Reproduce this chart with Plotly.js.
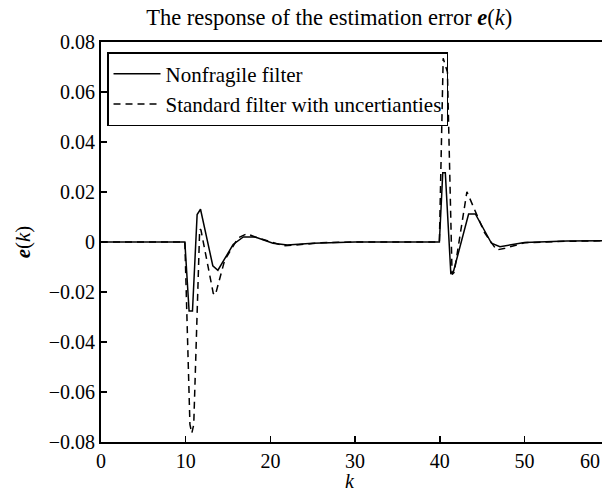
<!DOCTYPE html>
<html>
<head>
<meta charset="utf-8">
<script src="https://cdn.plot.ly/plotly-3.0.1.min.js"></script>
<style>html,body{margin:0;padding:0;background:#fff;}#chart{width:602px;height:493px;}</style>
</head>
<body>
<div id="chart"></div>
<script>
// Nonfragile filter
var kSolid = [0, 9.9, 10.4, 10.8, 11.35, 11.75, 13.2, 13.8, 15.6, 16.8, 18.2, 20.3, 22, 25, 30, 39.95, 40.35, 40.65, 41.3, 41.6, 43.4, 44.2, 46.1, 47.1, 50, 55, 60];
var eSolid = [0, 0, -0.0276, -0.0276, 0.011, 0.0131, -0.0095, -0.0113, -0.001, 0.002, 0.002, -0.0005, -0.0012, -0.0005, 0, 0, 0.0277, 0.0277, -0.0125, -0.012, 0.0112, 0.0112, -0.0005, -0.0019, -0.0002, 0.0004, 0.0005];
// Standard filter with uncertainties
var kDash = [0, 9.9, 10.5, 10.72, 10.95, 11.65, 11.8, 13.25, 13.5, 14.6, 16.2, 17.2, 18.2, 20, 21.5, 23, 26, 30, 39.95, 40.4, 40.9, 41.45, 41.7, 43.2, 45.3, 46.7, 47.7, 50, 55, 60];
var eDash = [0, 0, -0.073, -0.0765, -0.073, 0.0052, 0.0048, -0.0205, -0.0212, -0.0073, 0.0017, 0.0033, 0.002, 0, -0.0015, -0.0012, -0.0003, 0, 0, 0.0735, 0.068, -0.013, -0.0122, 0.0201, 0.0036, -0.0032, -0.0025, -0.0003, 0.0003, 0.0005];
var seriesNames = ['Nonfragile filter', 'Standard filter with uncertianties'];
var xTicks = [0, 10, 20, 30, 40, 50];
var yTicks = [-0.08, -0.06, -0.04, -0.02, 0, 0.02, 0.04, 0.06, 0.08];

var font = 'Liberation Serif, Times New Roman, serif';
var traces = [
  {x: kSolid, y: eSolid, mode: 'lines', name: seriesNames[0], line: {color: '#000', width: 1.5, dash: 'solid'}},
  {x: kDash, y: eDash, mode: 'lines', name: seriesNames[1], line: {color: '#000', width: 1.5, dash: '7px,5px'}}
];
var layout = {
  width: 602, height: 493,
  margin: {l: 101, r: 0, t: 42, b: 51, pad: 0},
  paper_bgcolor: '#fff', plot_bgcolor: '#fff',
  font: {family: font, size: 20, color: '#000'},
  title: {text: 'The response of the estimation error <b><i>e</i></b>(<i>k</i>)', x: 0.547, xanchor: 'center', y: 0.966, yanchor: 'middle', yref: 'container', font: {family: font, size: 22.5, color: '#000'}},
  xaxis: {range: [0, 59.15], tickvals: xTicks, ticks: 'inside', ticklen: 6, tickwidth: 1.5, tickcolor: '#000',
    showline: true, linecolor: '#000', linewidth: 2, mirror: true, showgrid: false, zeroline: false,
    tickfont: {family: font, size: 20}},
  yaxis: {range: [-0.08, 0.08], tickvals: yTicks, ticks: 'inside', ticklen: 6, tickwidth: 1.5, tickcolor: '#000',
    showline: true, linecolor: '#000', linewidth: 2, mirror: false, showgrid: false, zeroline: false,
    tickfont: {family: font, size: 20}, title: {text: '<b><i>e</i></b>(<i>k</i>)', standoff: 12, font: {family: font, size: 21}}},
  legend: {x: 0.012, y: 0.975, xanchor: 'left', yanchor: 'top', bgcolor: 'rgba(255,255,255,0)', bordercolor: '#000', borderwidth: 1.5,
    font: {family: font, size: 21}, itemwidth: 47, tracegroupgap: 0},
  showlegend: true,
  annotations: [
    {text: '60', xref: 'paper', yref: 'paper', x: 1, y: 0, xanchor: 'right', yanchor: 'top', yshift: -6, showarrow: false, font: {family: font, size: 20}},
    {text: '<i>k</i>', xref: 'paper', yref: 'paper', x: 0.497, y: 0, xanchor: 'center', yanchor: 'bottom', yshift: -51, borderpad: 0, showarrow: false, font: {family: font, size: 20}}
  ]
};
Plotly.newPlot('chart', traces, layout, {displayModeBar: false, staticPlot: true});
</script>
</body>
</html>
